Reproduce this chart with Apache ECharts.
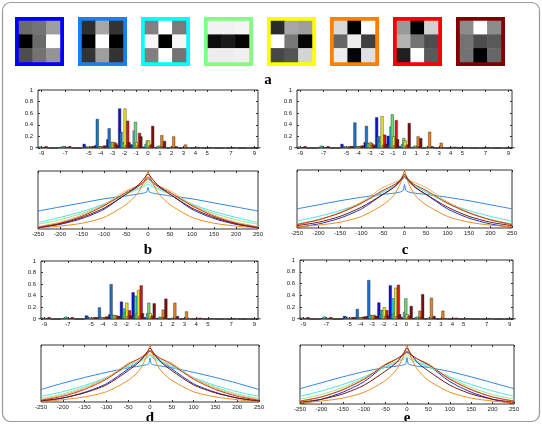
<!DOCTYPE html>
<html>
<head>
<meta charset="utf-8">
<script src="https://cdn.jsdelivr.net/npm/echarts@6/dist/echarts.min.js"></script>
<style>
html, body { margin: 0; padding: 0; background: #fff; }
#main { width: 542px; height: 424px; }
</style>
</head>
<body>
<div id="main"></div>
<script>
// ---- data ----
// 3x3 grey patches (row by row, 0 = black, 1 = white)
const patches = [
  [0.42, 0.45, 0.62, 0.0, 0.42, 1.0, 0.3, 0.45, 0.58],
  [0.18, 0.65, 0.2, 0.0, 1.0, 0.0, 0.2, 0.62, 0.2],
  [0.5, 1.0, 0.48, 0.97, 0.0, 0.97, 0.5, 1.0, 0.45],
  [0.95, 0.95, 0.96, 0.05, 0.1, 0.02, 0.93, 0.93, 0.94],
  [0.17, 0.65, 0.62, 1.0, 0.47, 0.02, 0.28, 0.33, 0.83],
  [0.85, 0.0, 1.0, 0.4, 0.93, 0.25, 0.93, 0.02, 0.88],
  [0.6, 0.0, 0.82, 0.7, 0.45, 0.3, 0.12, 1.0, 0.35],
  [0.55, 1.0, 0.55, 0.45, 0.3, 0.35, 0.45, 0.0, 0.4]
]

// histogram bins
const barX = [-9, -8, -7, -6, -5, -4, -3, -2, -1, 0, 1, 2, 3, 4, 5, 6, 7, 8, 9]
const barTicks = [-9, -7, -5, -4, -3, -2, -1, 0, 1, 2, 3, 4, 5, 7, 9]

const barsB = [
  [0.01, 0, 0.01, 0, 0.07, 0.05, 0.15, 0.68, 0.06, 0.02, 0.01, 0, 0, 0, 0, 0, 0, 0, 0],
  [0.02, 0, 0.02, 0, 0.03, 0.5, 0.34, 0.28, 0.05, 0.02, 0.01, 0, 0, 0, 0, 0, 0, 0, 0],
  [0.02, 0, 0.03, 0, 0.02, 0.03, 0.1, 0.1, 0.3, 0.07, 0.03, 0.01, 0, 0, 0, 0, 0, 0, 0],
  [0.02, 0, 0.02, 0, 0.02, 0.03, 0.1, 0.08, 0.45, 0.13, 0.04, 0.02, 0.01, 0, 0, 0, 0, 0, 0],
  [0.01, 0, 0.01, 0, 0.02, 0.03, 0.1, 0.68, 0.1, 0.13, 0.02, 0.01, 0, 0, 0, 0, 0, 0, 0],
  [0.01, 0, 0.01, 0, 0.02, 0.03, 0.1, 0.05, 0.05, 0.04, 0.22, 0.2, 0.06, 0.02, 0.01, 0, 0.01, 0, 0.01],
  [0.02, 0, 0.02, 0, 0.03, 0.04, 0.08, 0.47, 0.26, 0.06, 0.03, 0.01, 0, 0, 0, 0, 0, 0, 0],
  [0.03, 0, 0.03, 0, 0.03, 0.04, 0.05, 0.1, 0.2, 0.38, 0.12, 0.03, 0.01, 0.01, 0.01, 0, 0.01, 0, 0.01]
]
const barsC = [
  [0.01, 0, 0.01, 0, 0.07, 0.03, 0.1, 0.53, 0.21, 0.03, 0.01, 0, 0, 0, 0, 0, 0, 0, 0],
  [0.02, 0, 0.02, 0, 0.03, 0.44, 0.38, 0.2, 0.05, 0.02, 0.01, 0, 0, 0, 0, 0, 0, 0, 0],
  [0.02, 0, 0.04, 0, 0.02, 0.03, 0.08, 0.1, 0.37, 0.07, 0.03, 0.01, 0, 0, 0, 0, 0, 0, 0],
  [0.02, 0, 0.02, 0, 0.02, 0.03, 0.08, 0.2, 0.58, 0.17, 0.04, 0.02, 0.01, 0, 0, 0, 0, 0, 0],
  [0.01, 0, 0.01, 0, 0.02, 0.03, 0.1, 0.55, 0.2, 0.13, 0.02, 0.01, 0, 0, 0, 0, 0, 0, 0],
  [0.01, 0, 0.01, 0, 0.02, 0.03, 0.08, 0.05, 0.05, 0.04, 0.2, 0.28, 0.09, 0.02, 0.01, 0, 0.01, 0, 0.01],
  [0.02, 0, 0.02, 0, 0.03, 0.04, 0.06, 0.23, 0.48, 0.06, 0.03, 0.01, 0, 0, 0, 0, 0, 0, 0],
  [0.03, 0, 0.03, 0, 0.03, 0.04, 0.05, 0.07, 0.15, 0.43, 0.17, 0.03, 0.01, 0.02, 0.01, 0, 0.01, 0, 0.01]
]
const barsD = [
  [0.01, 0, 0.01, 0, 0.06, 0.03, 0.08, 0.3, 0.46, 0.03, 0.01, 0, 0, 0, 0, 0, 0, 0, 0],
  [0.02, 0, 0.02, 0, 0.04, 0.2, 0.6, 0.08, 0.05, 0.02, 0.01, 0, 0, 0, 0, 0, 0, 0, 0],
  [0.02, 0, 0.04, 0, 0.02, 0.03, 0.07, 0.18, 0.4, 0.1, 0.03, 0.01, 0, 0, 0, 0, 0, 0, 0],
  [0.02, 0, 0.02, 0, 0.02, 0.03, 0.07, 0.12, 0.1, 0.28, 0.04, 0.02, 0.01, 0, 0, 0, 0, 0, 0],
  [0.01, 0, 0.01, 0, 0.02, 0.03, 0.06, 0.28, 0.5, 0.1, 0.02, 0.01, 0, 0, 0, 0, 0, 0, 0],
  [0.01, 0, 0.01, 0, 0.02, 0.03, 0.06, 0.05, 0.05, 0.04, 0.16, 0.28, 0.13, 0.02, 0.01, 0, 0.01, 0, 0.01],
  [0.02, 0, 0.02, 0, 0.03, 0.04, 0.05, 0.15, 0.58, 0.06, 0.03, 0.01, 0, 0, 0, 0, 0, 0, 0],
  [0.03, 0, 0.03, 0, 0.03, 0.04, 0.05, 0.06, 0.1, 0.27, 0.35, 0.05, 0.01, 0.02, 0.01, 0, 0.01, 0, 0.01]
]
const barsE = [
  [0.01, 0, 0.01, 0, 0.05, 0.03, 0.05, 0.28, 0.57, 0.03, 0.01, 0, 0, 0, 0, 0, 0, 0, 0],
  [0.02, 0, 0.02, 0, 0.04, 0.17, 0.66, 0.08, 0.05, 0.02, 0.01, 0, 0, 0, 0, 0, 0, 0, 0],
  [0.02, 0, 0.04, 0, 0.02, 0.03, 0.07, 0.15, 0.35, 0.12, 0.03, 0.01, 0, 0, 0, 0, 0, 0, 0],
  [0.02, 0, 0.02, 0, 0.02, 0.03, 0.06, 0.15, 0.1, 0.35, 0.04, 0.02, 0.01, 0, 0, 0, 0, 0, 0],
  [0.01, 0, 0.01, 0, 0.02, 0.03, 0.06, 0.2, 0.53, 0.08, 0.02, 0.01, 0, 0, 0, 0, 0, 0, 0],
  [0.01, 0, 0.01, 0, 0.02, 0.03, 0.07, 0.05, 0.05, 0.04, 0.14, 0.36, 0.14, 0.02, 0.01, 0, 0.01, 0, 0.01],
  [0.02, 0, 0.02, 0, 0.03, 0.04, 0.05, 0.15, 0.58, 0.06, 0.03, 0.01, 0, 0, 0, 0, 0, 0, 0],
  [0.03, 0, 0.03, 0, 0.03, 0.04, 0.05, 0.06, 0.08, 0.22, 0.42, 0.05, 0.01, 0.02, 0.01, 0, 0.01, 0, 0.01]
]

// curves (height relative to the plot box)
const lineX = [-250, -200, -150, -100, -50, -25, -10, -3, 0, 3, 10, 25, 50, 100, 150, 200, 250]

const linesB = [
  [0.02, 0.08, 0.18, 0.34, 0.6, 0.72, 0.8, 0.85, 0.87, 0.85, 0.8, 0.72, 0.6, 0.34, 0.18, 0.08, 0.02],
  [0.31, 0.38, 0.45, 0.52, 0.57, 0.6, 0.62, 0.64, 0.72, 0.64, 0.62, 0.6, 0.57, 0.52, 0.45, 0.38, 0.31],
  [0.11, 0.2, 0.3, 0.43, 0.6, 0.68, 0.73, 0.76, 0.78, 0.76, 0.73, 0.68, 0.6, 0.43, 0.3, 0.2, 0.11],
  [0.08, 0.16, 0.27, 0.41, 0.6, 0.69, 0.76, 0.8, 0.82, 0.8, 0.76, 0.69, 0.6, 0.41, 0.27, 0.16, 0.08],
  [0.04, 0.12, 0.24, 0.42, 0.66, 0.74, 0.8, 0.84, 0.86, 0.84, 0.8, 0.74, 0.66, 0.42, 0.24, 0.12, 0.04],
  [0.02, 0.05, 0.1, 0.2, 0.42, 0.6, 0.8, 0.93, 1.0, 0.93, 0.8, 0.6, 0.42, 0.2, 0.1, 0.05, 0.02],
  [0.03, 0.1, 0.22, 0.4, 0.63, 0.73, 0.82, 0.88, 0.9, 0.88, 0.82, 0.73, 0.63, 0.4, 0.22, 0.1, 0.03],
  [0.02, 0.09, 0.2, 0.36, 0.6, 0.74, 0.86, 0.93, 0.95, 0.93, 0.86, 0.74, 0.6, 0.36, 0.2, 0.09, 0.02]
]
const linesC = [
  [0.01, 0.07, 0.17, 0.33, 0.58, 0.7, 0.8, 0.85, 0.87, 0.85, 0.8, 0.7, 0.58, 0.33, 0.17, 0.07, 0.01],
  [0.33, 0.4, 0.47, 0.53, 0.58, 0.6, 0.62, 0.65, 0.75, 0.65, 0.62, 0.6, 0.58, 0.53, 0.47, 0.4, 0.33],
  [0.12, 0.2, 0.3, 0.43, 0.62, 0.72, 0.8, 0.86, 0.9, 0.86, 0.8, 0.72, 0.62, 0.43, 0.3, 0.2, 0.12],
  [0.07, 0.15, 0.26, 0.42, 0.64, 0.74, 0.84, 0.92, 0.95, 0.92, 0.84, 0.74, 0.64, 0.42, 0.26, 0.15, 0.07],
  [0.05, 0.14, 0.27, 0.45, 0.7, 0.78, 0.83, 0.86, 0.87, 0.86, 0.83, 0.78, 0.7, 0.45, 0.27, 0.14, 0.05],
  [0.02, 0.05, 0.1, 0.2, 0.4, 0.56, 0.76, 0.92, 1.0, 0.92, 0.76, 0.56, 0.4, 0.2, 0.1, 0.05, 0.02],
  [0.06, 0.14, 0.26, 0.43, 0.65, 0.74, 0.82, 0.87, 0.9, 0.87, 0.82, 0.74, 0.65, 0.43, 0.26, 0.14, 0.06],
  [0.04, 0.1, 0.2, 0.36, 0.58, 0.7, 0.82, 0.9, 0.93, 0.9, 0.82, 0.7, 0.58, 0.36, 0.2, 0.1, 0.04]
]
const linesD = [
  [0.01, 0.07, 0.17, 0.32, 0.58, 0.72, 0.82, 0.88, 0.9, 0.88, 0.82, 0.72, 0.58, 0.32, 0.17, 0.07, 0.01],
  [0.22, 0.33, 0.43, 0.52, 0.6, 0.63, 0.65, 0.67, 0.77, 0.67, 0.65, 0.63, 0.6, 0.52, 0.43, 0.33, 0.22],
  [0.1, 0.18, 0.29, 0.43, 0.62, 0.7, 0.76, 0.8, 0.82, 0.8, 0.76, 0.7, 0.62, 0.43, 0.29, 0.18, 0.1],
  [0.06, 0.14, 0.26, 0.42, 0.64, 0.72, 0.78, 0.82, 0.84, 0.82, 0.78, 0.72, 0.64, 0.42, 0.26, 0.14, 0.06],
  [0.04, 0.12, 0.24, 0.42, 0.68, 0.76, 0.81, 0.84, 0.85, 0.84, 0.81, 0.76, 0.68, 0.42, 0.24, 0.12, 0.04],
  [0.01, 0.04, 0.09, 0.18, 0.38, 0.55, 0.76, 0.92, 1.0, 0.92, 0.76, 0.55, 0.38, 0.18, 0.09, 0.04, 0.01],
  [0.03, 0.1, 0.22, 0.4, 0.66, 0.76, 0.84, 0.88, 0.9, 0.88, 0.84, 0.76, 0.66, 0.4, 0.22, 0.1, 0.03],
  [0.02, 0.07, 0.16, 0.3, 0.55, 0.7, 0.84, 0.92, 0.95, 0.92, 0.84, 0.7, 0.55, 0.3, 0.16, 0.07, 0.02]
]
const linesE = [
  [0.0, 0.08, 0.2, 0.38, 0.66, 0.76, 0.83, 0.86, 0.88, 0.86, 0.83, 0.76, 0.66, 0.38, 0.2, 0.08, 0.0],
  [0.26, 0.36, 0.46, 0.55, 0.62, 0.64, 0.66, 0.68, 0.78, 0.68, 0.66, 0.64, 0.62, 0.55, 0.46, 0.36, 0.26],
  [0.13, 0.22, 0.33, 0.46, 0.63, 0.7, 0.75, 0.78, 0.8, 0.78, 0.75, 0.7, 0.63, 0.46, 0.33, 0.22, 0.13],
  [0.08, 0.16, 0.28, 0.44, 0.65, 0.72, 0.78, 0.82, 0.84, 0.82, 0.78, 0.72, 0.65, 0.44, 0.28, 0.16, 0.08],
  [0.04, 0.12, 0.25, 0.43, 0.68, 0.76, 0.82, 0.85, 0.86, 0.85, 0.82, 0.76, 0.68, 0.43, 0.25, 0.12, 0.04],
  [0.02, 0.05, 0.1, 0.2, 0.4, 0.58, 0.78, 0.93, 1.0, 0.93, 0.78, 0.58, 0.4, 0.2, 0.1, 0.05, 0.02],
  [0.05, 0.12, 0.24, 0.42, 0.67, 0.76, 0.83, 0.88, 0.9, 0.88, 0.83, 0.76, 0.67, 0.42, 0.24, 0.12, 0.05],
  [0.03, 0.08, 0.17, 0.32, 0.56, 0.7, 0.84, 0.92, 0.95, 0.92, 0.84, 0.7, 0.56, 0.32, 0.17, 0.08, 0.03]
]

// ---- styles and layout ----
const frameColors = ['#0000ff', '#1a80f0', '#00ffff', '#80ff80', '#ffff00', '#ff8000', '#ff0000', '#800000']
const barColors = ['#1010d8', '#1f70c8', '#20d8d8', '#70d870', '#e8e820', '#e88020', '#d81818', '#7a1010']
const lineColors = ['#2030c0', '#2f86e0', '#50e0e8', '#90e890', '#f0b060', '#f08a20', '#c83818', '#701818']

const panels = [
  { bars: barsB, lines: linesB, bar: { left: 38, top: 90, width: 220, height: 58 }, line: { left: 38, top: 171, width: 220, height: 58 }, label: 'b', lx: 148, ly: 250 },
  { bars: barsC, lines: linesC, bar: { left: 297, top: 90, width: 215, height: 58 }, line: { left: 297, top: 170, width: 215, height: 58 }, label: 'c', lx: 405, ly: 250 },
  { bars: barsD, lines: linesD, bar: { left: 41, top: 261, width: 217, height: 58 }, line: { left: 41, top: 345, width: 218, height: 57 }, label: 'd', lx: 150, ly: 418 },
  { bars: barsE, lines: linesE, bar: { left: 300, top: 260, width: 213, height: 59 }, line: { left: 300, top: 345, width: 214, height: 59 }, label: 'e', lx: 407, ly: 418 }
]

const tickFont = { fontSize: 6, color: '#222', fontFamily: 'Liberation Sans' }
const tickStyle = { color: '#333' }
const labelFont = 'bold 15px "Liberation Serif"'

const grid = []
const xAxis = []
const yAxis = []
const series = []
const heatIdx = []

// patches row
patches.forEach((p, k) => {
  const g = grid.length
  grid.push({ left: 19 + k * 63, top: 21, width: 41, height: 41, show: true, borderColor: frameColors[k], borderWidth: 8, backgroundColor: '#fff' })
  xAxis.push({ type: 'category', gridIndex: g, data: ['0', '1', '2'], show: false })
  yAxis.push({ type: 'category', gridIndex: g, data: ['0', '1', '2'], inverse: true, show: false })
  heatIdx.push(series.length)
  series.push({
    type: 'heatmap', xAxisIndex: xAxis.length - 1, yAxisIndex: yAxis.length - 1,
    data: p.map((v, i) => [i % 3, Math.floor(i / 3), v])
  })
})

panels.forEach(pn => {
  // bar chart
  let g = grid.length
  grid.push(Object.assign({ show: true, borderColor: '#333', borderWidth: 1 }, pn.bar))
  const bx = xAxis.length
  xAxis.push({
    type: 'value', gridIndex: g, min: -9.3, max: 9.3,
    axisLine: { show: false, onZero: false }, splitLine: { show: false },
    axisTick: { inside: true, length: 2, customValues: barTicks, lineStyle: tickStyle },
    axisLabel: Object.assign({ customValues: barTicks, margin: 2 }, tickFont)
  })
  xAxis.push({
    type: 'value', gridIndex: g, position: 'top', min: -9.3, max: 9.3,
    axisLine: { show: false, onZero: false }, splitLine: { show: false }, axisLabel: { show: false },
    axisTick: { inside: true, length: 2, customValues: barTicks, lineStyle: tickStyle }
  })
  const by = yAxis.length
  yAxis.push({
    type: 'value', gridIndex: g, min: 0, max: 1, interval: 0.2,
    axisLine: { show: false, onZero: false }, splitLine: { show: false },
    axisTick: { show: true, inside: true, length: 2, lineStyle: tickStyle },
    axisLabel: Object.assign({ margin: 5 }, tickFont)
  })
  yAxis.push({
    type: 'value', gridIndex: g, position: 'right', min: 0, max: 1, interval: 0.2,
    axisLine: { show: false, onZero: false }, splitLine: { show: false }, axisLabel: { show: false },
    axisTick: { show: true, inside: true, length: 2, lineStyle: tickStyle }
  })
  pn.bars.forEach((vals, s) => {
    series.push({
      type: 'bar', xAxisIndex: bx, yAxisIndex: by,
      barWidth: 3, barGap: '-55%',
      itemStyle: { color: barColors[s], borderColor: '#222', borderWidth: 0.4 },
      data: barX.map((x, i) => [x, vals[i]])
    })
  })

  // curves
  g = grid.length
  grid.push(Object.assign({ show: true, borderColor: '#333', borderWidth: 1 }, pn.line))
  const lx = xAxis.length
  xAxis.push({
    type: 'value', gridIndex: g, min: -250, max: 250, interval: 50,
    axisLine: { show: false, onZero: false }, splitLine: { show: false },
    axisTick: { inside: true, length: 2, lineStyle: tickStyle },
    axisLabel: Object.assign({ margin: 2 }, tickFont)
  })
  xAxis.push({
    type: 'value', gridIndex: g, position: 'top', min: -250, max: 250, interval: 50,
    axisLine: { show: false, onZero: false }, splitLine: { show: false }, axisLabel: { show: false },
    axisTick: { inside: true, length: 2, lineStyle: tickStyle }
  })
  const ly = yAxis.length
  yAxis.push({ type: 'value', gridIndex: g, min: 0, max: 1, show: false, axisLine: { onZero: false } })
  pn.lines.forEach((vals, s) => {
    series.push({
      type: 'line', xAxisIndex: lx, yAxisIndex: ly,
      showSymbol: false, smooth: 0.25,
      lineStyle: { width: 1, color: lineColors[s] },
      data: lineX.map((x, i) => [x, vals[i]])
    })
  })
})

const graphic = [
  { type: 'rect', shape: { x: 2.5, y: 2.5, width: 537, height: 419, r: 8 }, style: { fill: 'none', stroke: '#9a9a9a', lineWidth: 1.2 }, z: 100 },
  { type: 'text', x: 268, y: 80, style: { text: 'a', font: labelFont, fill: '#000', textAlign: 'center', textVerticalAlign: 'middle' } }
]
panels.forEach(pn => {
  graphic.push({ type: 'text', x: pn.lx, y: pn.ly, style: { text: pn.label, font: labelFont, fill: '#000', textAlign: 'center', textVerticalAlign: 'middle' } })
})

const chart = echarts.init(document.getElementById('main'))
chart.setOption({
  animation: false,
  grid, xAxis, yAxis, series, graphic,
  visualMap: { show: false, min: 0, max: 1, seriesIndex: heatIdx, inRange: { color: ['#000000', '#ffffff'] } }
})
</script>
</body>
</html>
